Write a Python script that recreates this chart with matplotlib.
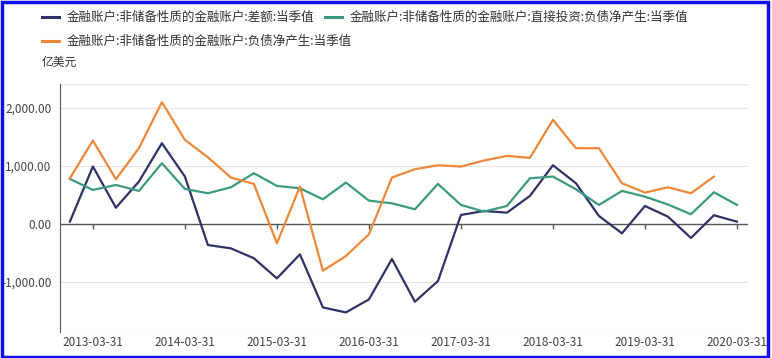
import matplotlib.pyplot as plt
import matplotlib.patches as patches
import numpy as np

plt.rcParams['font.family'] = ['Noto Sans CJK SC', 'DejaVu Sans']

# 2012-12-31 .. 2020-03-31, quarterly
year_ticks = ['2013-03-31', '2014-03-31', '2015-03-31', '2016-03-31',
              '2017-03-31', '2018-03-31', '2019-03-31', '2020-03-31']
tick_idx = [1, 5, 9, 13, 17, 21, 25, 29]

balance = [40, 990, 280, 730, 1390, 816, -362, -420, -590, -937,
           -523, -1437, -1523, -1299, -603, -1339, -983, 155, 224, 195,
           483, 1011, 701, 138, -161, 310, 126, -241, 150, 40]
fdi_liab = [776, 586, 672, 569, 1046, 603, 529, 632, 874, 655,
            615, 425, 713, 402, 356, 253, 690, 328, 213, 310,
            787, 816, 598, 328, 569, 471, 335, 167, 546, 328]
liab = [787, 1437, 770, 1305, 2098, 1448, 1149, 799, 690, -333,
        644, -805, -552, -178, 799, 943, 1011, 989, 1092, 1172,
        1138, 1793, 1305, 1305, 701, 540, 632, 529, 816, np.nan]

names = ['金融账户:非储备性质的金融账户:差额:当季值',
         '金融账户:非储备性质的金融账户:直接投资:负债净产生:当季值',
         '金融账户:非储备性质的金融账户:负债净产生:当季值']
colors = ['#2e3266', '#3c9a80', '#f0883a']

fig = plt.figure(figsize=(7.72, 3.58), dpi=100)
ax = fig.add_axes([60/772, 26/358, 688/772, 248/358])

x = np.arange(len(balance))
ax.plot(x, balance, color=colors[0], lw=1.6)
ax.plot(x, fdi_liab, color=colors[1], lw=1.6)
ax.plot(x, liab, color=colors[2], lw=1.6)

ymin, ymax = -1860, 2410
ax.set_ylim(ymin, ymax)
ax.set_xlim(-0.43, 29.48)

for v in [2000, 1000, -1000, ymax, ymin]:
    ax.axhline(v, color='#e3e3e3', lw=0.8, zorder=0)
ax.axhline(0, color='#555555', lw=1.0, zorder=1)
ax.vlines(tick_idx, -85, 0, color='#555555', lw=1.0)

ax.set_yticks([2000, 1000, 0, -1000])
ax.set_yticklabels(['2,000.00', '1,000.00', '0.00', '-1,000.00'])
ax.set_xticks(tick_idx)
ax.set_xticklabels(year_ticks)
ax.tick_params(axis='both', length=0, labelsize=8.5, labelcolor='#444444')
ax.tick_params(axis='x', pad=3)
ax.tick_params(axis='y', pad=6)

for s in ['top', 'right', 'bottom']:
    ax.spines[s].set_visible(False)
ax.spines['left'].set_color('#555555')

# legend drawn manually in figure pixels
def leg(xp, yp, col, txt):
    fig.add_artist(plt.Line2D([xp/772, (xp+17)/772], [1-yp/358, 1-yp/358],
                              color=col, lw=2.2))
    fig.text((xp+25)/772, 1-yp/358, txt, fontsize=9.0, color='#333333',
             va='center', ha='left')

leg(42, 17, colors[0], names[0])
leg(325, 17, colors[1], names[1])
leg(42, 41, colors[2], names[2])
fig.text(42/772, 1-62/358, '亿美元', fontsize=8.5, color='#333333',
         va='center', ha='left')

fig.add_artist(patches.Rectangle((0.002, 0.004), 0.993, 0.99,
                                 transform=fig.transFigure, fill=False,
                                 edgecolor='#1010ee', lw=2.5))

fig.savefig('out.png', dpi=100)
